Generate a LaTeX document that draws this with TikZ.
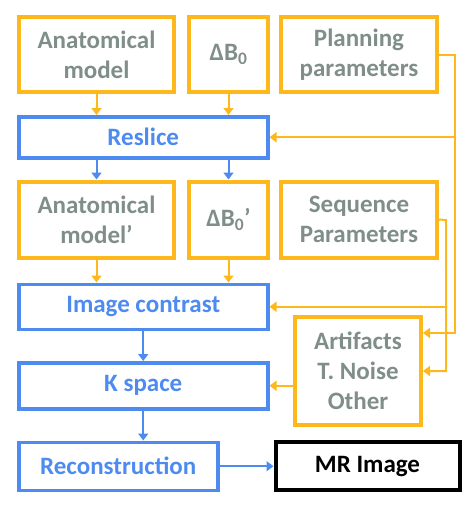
\documentclass[tikz,border=0pt]{standalone}
\usepackage{fontspec}
\setmainfont{Carlito}
\usetikzlibrary{arrows.meta,positioning}

\definecolor{boxorange}{RGB}{255,184,28}
\definecolor{boxblue}{RGB}{77,139,240}
\definecolor{txtgray}{RGB}{128,142,138}

\begin{document}
\begin{tikzpicture}[
        x=1pt, y=-1pt,
        node distance=21pt and 11pt,
        every node/.style={font=\fontsize{25}{30}\selectfont\bfseries},
        inbox/.style={
            rectangle,
            draw=boxorange,
            line width=4pt,
            text=txtgray,
            minimum height=75pt,
            inner sep=0pt,
            align=center
        },
        stepbox/.style={
            rectangle,
            draw=boxblue,
            line width=3.5pt,
            text=boxblue,
            minimum height=45pt,
            inner sep=0pt,
            align=center
        },
        outbox/.style={
            rectangle,
            draw=black,
            line width=4pt,
            text=black,
            minimum height=48pt,
            inner sep=0pt,
            align=center
        },
        oarrow/.style={
            -{Triangle[length=7pt,width=10pt]},
            line width=2pt,
            draw=boxorange
        },
        barrow/.style={
            -{Triangle[length=7pt,width=10pt]},
            line width=2pt,
            draw=boxblue
        }
    ]

    \useasboundingbox (0,0) rectangle (474,512);

    % first row of inputs
    \node[inbox, minimum width=155pt] (anat) at (96.5,54.5)
        {Anatomical\\model};
    \node[inbox, right=11pt of anat, minimum width=79pt] (dbzero)
        {ΔB\textsubscript{0}};
    \node[inbox, right=9pt of dbzero, minimum width=156pt] (plan)
        {Planning\\parameters};

    \node[stepbox, below right=21pt and 0pt of anat.south west,
          minimum width=249pt, minimum height=41pt] (reslice) {Reslice};

    % second row of inputs
    \node[inbox, below right=20pt and 0pt of reslice.south west,
          minimum width=155pt, minimum height=76pt] (anatb)
        {Anatomical\\model’};
    \node[inbox, right=11pt of anatb, minimum width=79pt,
          minimum height=76pt] (dbzerob)
        {ΔB\textsubscript{0}’};
    \node[inbox, right=9pt of dbzerob, minimum width=156pt,
          minimum height=76pt] (seq)
        {Sequence\\Parameters};

    \node[stepbox, below right=23pt and 0pt of anatb.south west,
          minimum width=249pt] (contrast) {Image contrast};
    \node[stepbox, below=30pt of contrast, minimum width=249pt,
          minimum height=46pt] (kspace) {K space};
    \node[stepbox, below right=30pt and 0pt of kspace.south west,
          minimum width=199pt, minimum height=48pt] (recon) {Reconstruction};
    \node[outbox, right=54pt of recon, minimum width=184pt] (mrimage)
        {MR Image};

    \node[inbox, minimum width=126pt, minimum height=108pt] (artifacts)
        at (358,371) {Artifacts\\T. Noise\\Other};

    \coordinate (planbus) at (455,54.5);
    \coordinate (seqbus) at (446,220);

    \draw[oarrow] (anat) -- (anat |- reslice.north);
    \draw[oarrow] (dbzero) -- (dbzero |- reslice.north);
    \draw[barrow] (anatb |- reslice.south) -- (anatb.north);
    \draw[barrow] (dbzerob |- reslice.south) -- (dbzerob.north);

    \draw[oarrow] (anatb) -- (anatb |- contrast.north);
    \draw[oarrow] (dbzerob) -- (dbzerob |- contrast.north);

    \draw[barrow] (contrast) -- (kspace);
    \draw[barrow] (kspace) -- (kspace |- recon.north);
    \draw[barrow] (recon) -- (mrimage);

    \draw[oarrow] (plan.east) -- (planbus) |- ([yshift=38pt]artifacts.east);
    \draw[oarrow] (planbus |- reslice) -- (reslice.east);
    \draw[oarrow] (seq.east) -- (seqbus) |- (artifacts.east);
    \draw[oarrow] (seqbus |- contrast) -- (contrast.east);
    \draw[oarrow] (artifacts.west |- kspace) -- (kspace.east);

\end{tikzpicture}
\end{document}
